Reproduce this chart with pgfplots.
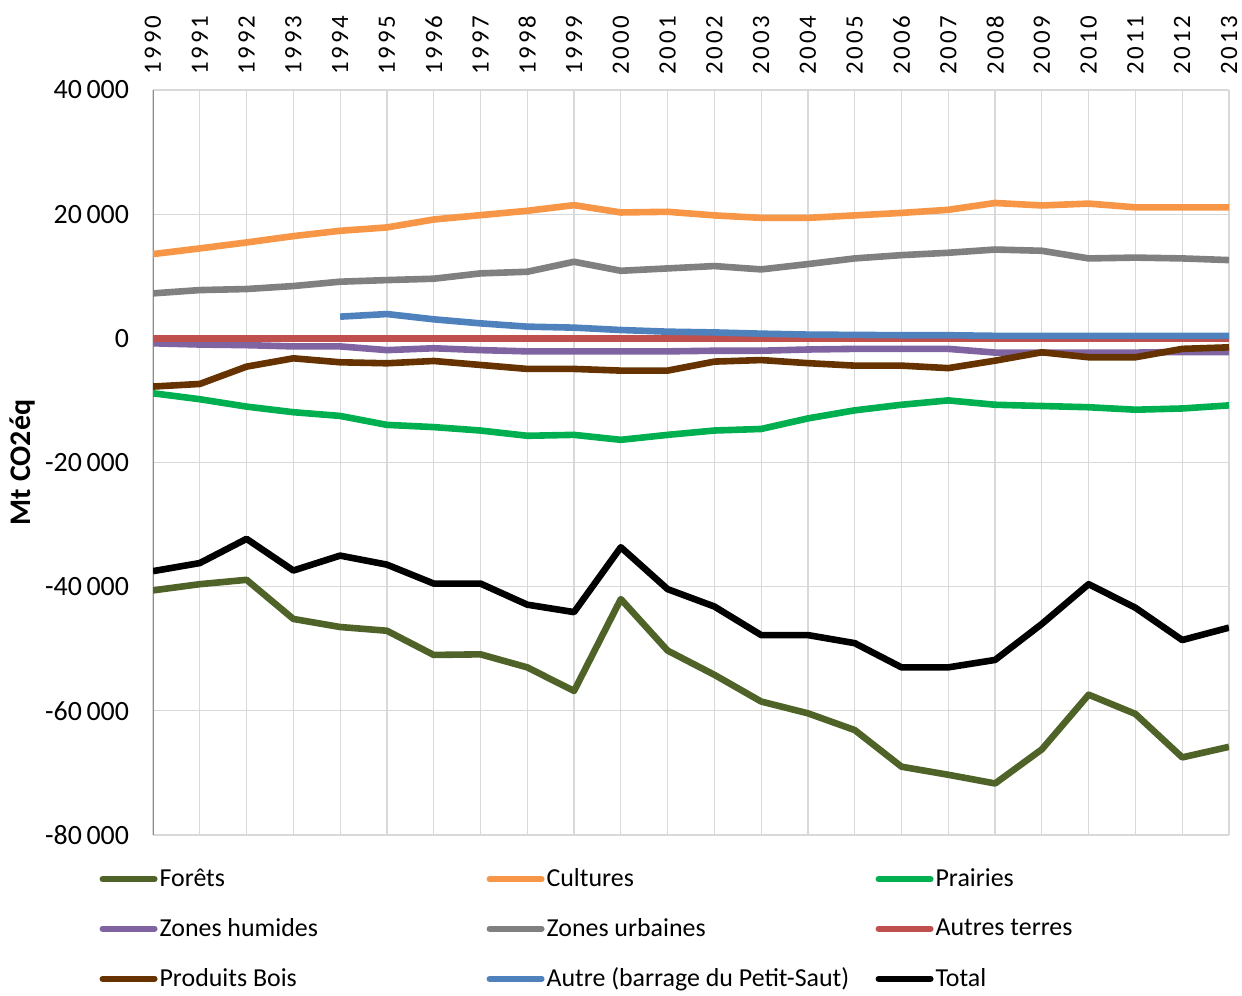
\documentclass[border=0pt]{standalone}
\usepackage{fontspec}
\setmainfont{Carlito}
\newfontfamily\yearfont[LetterSpace=12]{Carlito}
\usepackage{pgfplots}
\usepackage{pgfplotstable}
\pgfplotsset{compat=1.18}
\definecolor{cforet}{RGB}{79,98,40}
\definecolor{ccult}{RGB}{247,150,70}
\definecolor{cprai}{RGB}{0,176,80}
\definecolor{chum}{RGB}{128,100,162}
\definecolor{curb}{RGB}{128,128,128}
\definecolor{cautres}{RGB}{192,80,77}
\definecolor{cbois}{RGB}{102,51,0}
\definecolor{cautre}{RGB}{79,129,189}
\pgfplotstableread{
year foret cult prai hum urb autres bois autre total
1990 -40600 13570 -8850 -800 7240 -50 -7770 nan -37500
1991 -39600 14480 -9810 -1000 7770 -50 -7350 nan -36200
1992 -38900 15440 -11000 -1100 7940 -50 -4560 nan -32300
1993 -45200 16460 -11900 -1300 8420 -50 -3220 nan -37400
1994 -46500 17320 -12500 -1300 9120 -50 -3860 3490 -35000
1995 -47100 17860 -13940 -1900 9380 -50 -4020 3910 -36450
1996 -51000 19140 -14300 -1600 9600 -50 -3650 3060 -39500
1997 -50900 19840 -14850 -1900 10460 -50 -4290 2410 -39500
1998 -53000 20540 -15700 -2100 10720 -50 -4930 1880 -42900
1999 -56800 21450 -15550 -2100 12330 -50 -4930 1720 -44100
2000 -42000 20270 -16350 -2100 10880 -50 -5200 1340 -33650
2001 -50300 20380 -15550 -2100 11260 -50 -5200 1070 -40400
2002 -54200 19800 -14850 -2000 11640 -50 -3750 950 -43200
2003 -58500 19400 -14600 -2000 11100 -50 -3500 750 -47800
2004 -60400 19400 -12900 -1800 11960 -50 -4000 600 -47800
2005 -63100 19800 -11600 -1700 12870 -50 -4400 550 -49100
2006 -69000 20200 -10700 -1700 13400 -50 -4400 500 -53000
2007 -70300 20700 -10000 -1700 13780 -50 -4800 500 -53000
2008 -71700 21800 -10700 -2300 14300 -50 -3600 400 -51800
2009 -66200 21400 -10900 -2300 14100 -50 -2250 400 -46000
2010 -57400 21700 -11100 -2300 12870 -50 -3050 400 -39600
2011 -60500 21100 -11500 -2300 13000 -50 -3050 400 -43400
2012 -67500 21100 -11300 -2200 12870 -50 -1700 400 -48600
2013 -65800 21100 -10800 -2200 12600 -50 -1450 400 -46600
}\data
\begin{document}
\begin{tikzpicture}
\useasboundingbox (0,0) rectangle (621bp,498bp);
\begin{axis}[
  at={(76.5bp,80.5bp)}, anchor=south west,
  scale only axis, width=538bp, height=372.5bp,
  xmin=1990, xmax=2013, ymin=-80000, ymax=40000,
  xtick={1990,1991,...,2013},
  ytick={-80000,-60000,-40000,-20000,0,20000,40000},
  xticklabel pos=upper,
  xticklabel style={rotate=90, anchor=west, font=\yearfont\fontsize{12.5}{13}\selectfont, /pgf/number format/1000 sep={}, yshift=0bp, xshift=4bp},
  yticklabel style={font=\fontsize{14}{15}\selectfont, /pgf/number format/1000 sep={\,}, xshift=-8.5bp},
  /pgf/number format/assume math mode=true,
  scaled y ticks=false,
  major tick length=0pt,
  grid=major, grid style={draw=black!15, line width=0.6bp},
  axis line style={draw=none},
  ylabel={\textbf{Mt CO2éq}},
  every axis y label/.style={at={(axis description cs:-0.1217,0.5)}, rotate=90, anchor=center, font=\fontsize{15}{16}\selectfont},
  every axis plot/.append style={line width=3.3bp, line join=round},
  legend columns=3,
  legend cell align=left,
  legend image code/.code={\draw[#1, line width=3bp, line cap=round] (0bp,0bp) -- (26bp,0bp);},
  legend style={draw=none, fill=none, at={(-0.05,-0.042)}, anchor=north west,
    font=\fontsize{13}{15}\selectfont, inner sep=0pt, row sep=12.3bp,
    nodes={inner sep=1bp}},
]
\draw[black!45, line width=0.8bp] (rel axis cs:0,0) -- (rel axis cs:0,1);
\addplot[cforet] table[x=year,y=foret]{\data};
\addlegendentry{\makebox[162.5bp][l]{Forêts}}
\addplot[ccult] table[x=year,y=cult]{\data};
\addlegendentry{\makebox[163.5bp][l]{Cultures}}
\addplot[cprai] table[x=year,y=prai]{\data};
\addlegendentry{\makebox[90bp][l]{Prairies}}
\addplot[chum] table[x=year,y=hum]{\data};
\addlegendentry{Zones humides}
\addplot[curb] table[x=year,y=urb]{\data};
\addlegendentry{Zones urbaines}
\addplot[cautres] table[x=year,y=autres]{\data};
\addlegendentry{Autres terres}
\addplot[cbois] table[x=year,y=bois]{\data};
\addlegendentry{Produits Bois}
\addplot[cautre] table[x=year,y=autre]{\data};
\addlegendentry{Autre (barrage du Petit-Saut)}
\addplot[black] table[x=year,y=total]{\data};
\addlegendentry{Total}
\end{axis}
\end{tikzpicture}
\end{document}
